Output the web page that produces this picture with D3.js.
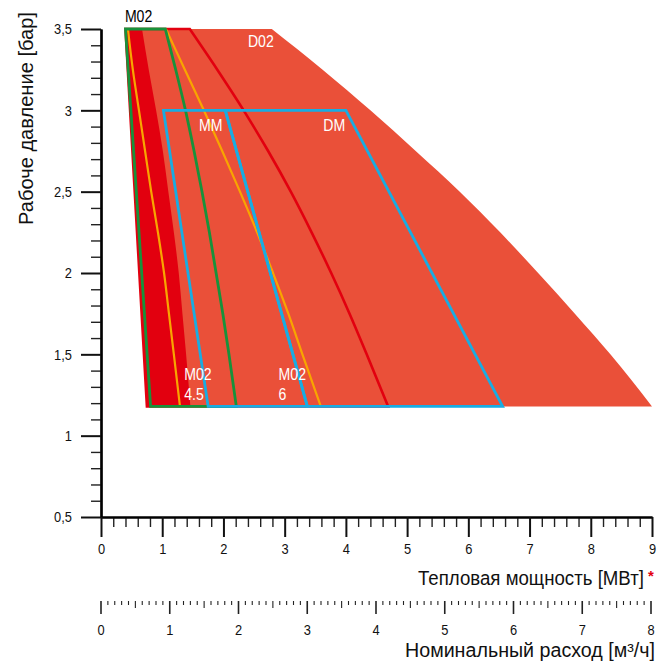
<!DOCTYPE html>
<html><head><meta charset="utf-8">
<script src="https://cdn.jsdelivr.net/npm/d3@7/dist/d3.min.js"></script>
<style>
html,body{margin:0;padding:0;background:#fff;}
svg{display:block;font-family:"Liberation Sans",Arimo,Arial,sans-serif;}
</style></head><body>
<svg id="chart" width="662" height="662"></svg>
<script>
// ---- data ----
const pressureLevels = [3.5, 3.25, 3.0, 2.75, 2.5, 2.25, 2.0, 1.75, 1.5, 1.18];
const d02Right      = [2.79, 3.62, 4.40, 5.14, 5.86, 6.52, 7.14, 7.74, 8.32, 9.0];
const darkBandRight = [0.67, 0.78, 0.90, 1.01, 1.10, 1.19, 1.27, 1.33, 1.39, 1.46];
const orangeInner   = [0.44, 0.52, 0.62, 0.72, 0.82, 0.93, 1.03, 1.11, 1.19, 1.29];
const greenRight    = [1.05, 1.22, 1.38, 1.52, 1.65, 1.77, 1.88, 1.99, 2.09, 2.21];
const orangeOuter   = [1.06, 1.37, 1.68, 1.98, 2.27, 2.55, 2.81, 3.06, 3.29, 3.59];
const redRight      = [1.45, 1.90, 2.33, 2.73, 3.10, 3.44, 3.76, 4.06, 4.34, 4.69];
const leftEdge      = [0.40, 0.75];      // power at top / bottom pressure
const greenLeftEdge = [0.40, 0.81];
const mmBox = [[1.02, 3.0], [2.03, 3.0], [3.37, 1.18], [1.75, 1.18]];
const dmBox = [[2.03, 3.0], [4.0, 3.0], [6.56, 1.18], [3.37, 1.18]];

const powerTicks = [0, 1, 2, 3, 4, 5, 6, 7, 8, 9];
const pressureTicks = [0.5, 1, 1.5, 2, 2.5, 3, 3.5];
const pressureTickLabels = ["0,5", "1", "1,5", "2", "2,5", "3", "3,5"];
const flowTicks = [0, 1, 2, 3, 4, 5, 6, 7, 8];

const annotations = [
  {lines: ["M02"], p: 0.39, b: 3.54, color: "#000"},
  {lines: ["D02"], p: 2.40, b: 3.39, color: "#fff"},
  {lines: ["MM"], p: 1.60, b: 2.87, color: "#fff"},
  {lines: ["DM"], p: 3.63, b: 2.87, color: "#fff"},
  {lines: ["M02", "4.5"], p: 1.36, b: 1.34, color: "#fff"},
  {lines: ["M02", "6"], p: 2.90, b: 1.34, color: "#fff"}
];

// ---- scales ----
const x = d3.scaleLinear().domain([0, 9]).range([101, 652]);
const y = d3.scaleLinear().domain([0.5, 3.5]).range([517, 29]);
const xf = d3.scaleLinear().domain([0, 8]).range([101, 651]);

const svg = d3.select("#chart");
const pTop = pressureLevels[0], pBottom = pressureLevels[pressureLevels.length - 1];
const NARROW = 0.83;

function condense(sel, f) {
  sel.each(function () {
    const t = d3.select(this);
    const xx = +t.attr("x") || 0;
    t.attr("x", 0).attr("transform", `translate(${xx},0) scale(${f},1)`);
  });
}

const curveGen = d3.line().x(d => x(d[0])).y(d => y(d[1])).curve(d3.curveMonotoneY);
const pts = arr => pressureLevels.map((p, i) => [arr[i], p]);

function regionPath(rightArr, left) {
  let s = `M${x(left[0])},${y(pTop)}`;
  s += curveGen(pts(rightArr)).replace(/^M/, "L");
  s += `L${x(left[1])},${y(pBottom)}Z`;
  return s;
}

const plot = svg.append("g");
plot.append("path").attr("d", regionPath(d02Right, leftEdge)).attr("fill", "#EA5039");
plot.append("path").attr("d", regionPath(darkBandRight, leftEdge)).attr("fill", "#E2000F");
plot.append("path").attr("d", regionPath(redRight, leftEdge)).attr("fill", "none")
  .attr("stroke", "#E2000F").attr("stroke-width", 2.6).attr("stroke-linejoin", "miter");
[orangeInner, orangeOuter].forEach(arr => {
  plot.append("path").attr("d", curveGen(pts(arr))).attr("fill", "none")
    .attr("stroke", "#F8A500").attr("stroke-width", 2.2);
});
plot.append("path").attr("d", regionPath(greenRight, greenLeftEdge)).attr("fill", "none")
  .attr("stroke", "#17923B").attr("stroke-width", 2.8).attr("stroke-linejoin", "miter");
const poly = d3.line().x(d => x(d[0])).y(d => y(d[1]));
[mmBox, dmBox].forEach(b => {
  plot.append("path").attr("d", poly(b) + "Z").attr("fill", "none")
    .attr("stroke", "#19ACE2").attr("stroke-width", 2.8).attr("stroke-linejoin", "miter");
});

annotations.forEach(a => {
  const t = plot.append("text").attr("fill", a.color).attr("font-size", 17)
    .attr("transform", `translate(${x(a.p)},${y(a.b)}) scale(${NARROW},1)`);
  a.lines.forEach((ln, i) => {
    t.append("tspan").attr("x", 0).attr("y", i * 20).text(ln);
  });
});

// ---- axes ----
const minorY = d3.range(5, 36).map(v => v / 10).filter(v => Math.abs(v * 2 - Math.round(v * 2)) > 1e-6);
const minorX = d3.range(0, 46).map(v => v / 5).filter(v => Math.abs(v - Math.round(v)) > 1e-6);

const yMinor = svg.append("g").attr("transform", "translate(101,0)")
  .call(d3.axisLeft(y).tickValues(minorY).tickSize(10).tickSizeOuter(0).tickFormat(""));
const yAxis = svg.append("g").attr("transform", "translate(101,0)")
  .call(d3.axisLeft(y).tickValues(pressureTicks).tickSize(20).tickSizeOuter(0).tickPadding(9)
    .tickFormat((d, i) => pressureTickLabels[i]));
const xMinor = svg.append("g").attr("transform", "translate(0,517)")
  .call(d3.axisBottom(x).tickValues(minorX).tickSize(10).tickSizeOuter(0).tickFormat(""));
const xAxis = svg.append("g").attr("transform", "translate(0,517)")
  .call(d3.axisBottom(x).tickValues(powerTicks).tickSize(20).tickSizeOuter(0).tickPadding(6)
    .tickFormat(d3.format("d")));

[yMinor, yAxis, xMinor, xAxis].forEach(g => {
  g.selectAll("text").attr("font-size", 15.5).attr("font-family", null).attr("fill", "#111");
  g.select(".domain").attr("stroke", "#000").attr("stroke-width", 2.2);
});
condense(yAxis.selectAll("text"), NARROW);
condense(xAxis.selectAll("text"), NARROW);
[yMinor, xMinor].forEach(g => g.selectAll(".tick line").attr("stroke-width", 1.4).attr("stroke", "#222"));
[yAxis, xAxis].forEach(g => g.selectAll(".tick line").attr("stroke-width", 2).attr("stroke", "#111"));

const flowAll = d3.range(0, 81).map(v => v / 10);
const fg = svg.append("g").attr("transform", "translate(0,601)");
fg.selectAll("line").data(flowAll).join("line")
  .attr("x1", d => xf(d)).attr("x2", d => xf(d)).attr("y1", 0)
  .attr("y2", d => Math.abs(d - Math.round(d)) < 1e-6 ? 13 : (Math.abs(d * 2 - Math.round(d * 2)) < 1e-6 ? 7 : 4))
  .attr("stroke", "#222")
  .attr("stroke-width", d => Math.abs(d - Math.round(d)) < 1e-6 ? 1.6 : 1.1);
fg.selectAll("text").data(flowTicks).join("text")
  .attr("transform", d => `translate(${xf(d)},34) scale(${NARROW},1)`)
  .attr("text-anchor", "middle")
  .attr("font-size", 15.5).attr("fill", "#111").text(d => d);

// titles: compressed horizontally to the reference widths
function fitTitle(txt, tx, ty, width, rotate) {
  const t = svg.append("text").attr("font-size", 19.5).attr("fill", "#111").text(txt);
  const w = t.node().getComputedTextLength();
  const f = width / w;
  if (rotate) {
    t.attr("text-anchor", "middle").attr("transform", `translate(${tx},${ty}) rotate(-90) scale(${f},1)`);
  } else {
    t.attr("transform", `translate(${tx},${ty}) scale(${f},1)`);
  }
  return t;
}
fitTitle("Тепловая мощность [МВт]", 418, 585, 226, false);
svg.append("text").attr("x", 648).attr("y", 581)
  .attr("font-size", 15).attr("font-weight", "bold").attr("fill", "#E2000F").text("*");
fitTitle("Номинальный расход [м³/ч]", 405, 657, 250, false);
fitTitle("Рабоче давление [бар]", 33, 118.5, 213, true);
</script>
</body></html>
